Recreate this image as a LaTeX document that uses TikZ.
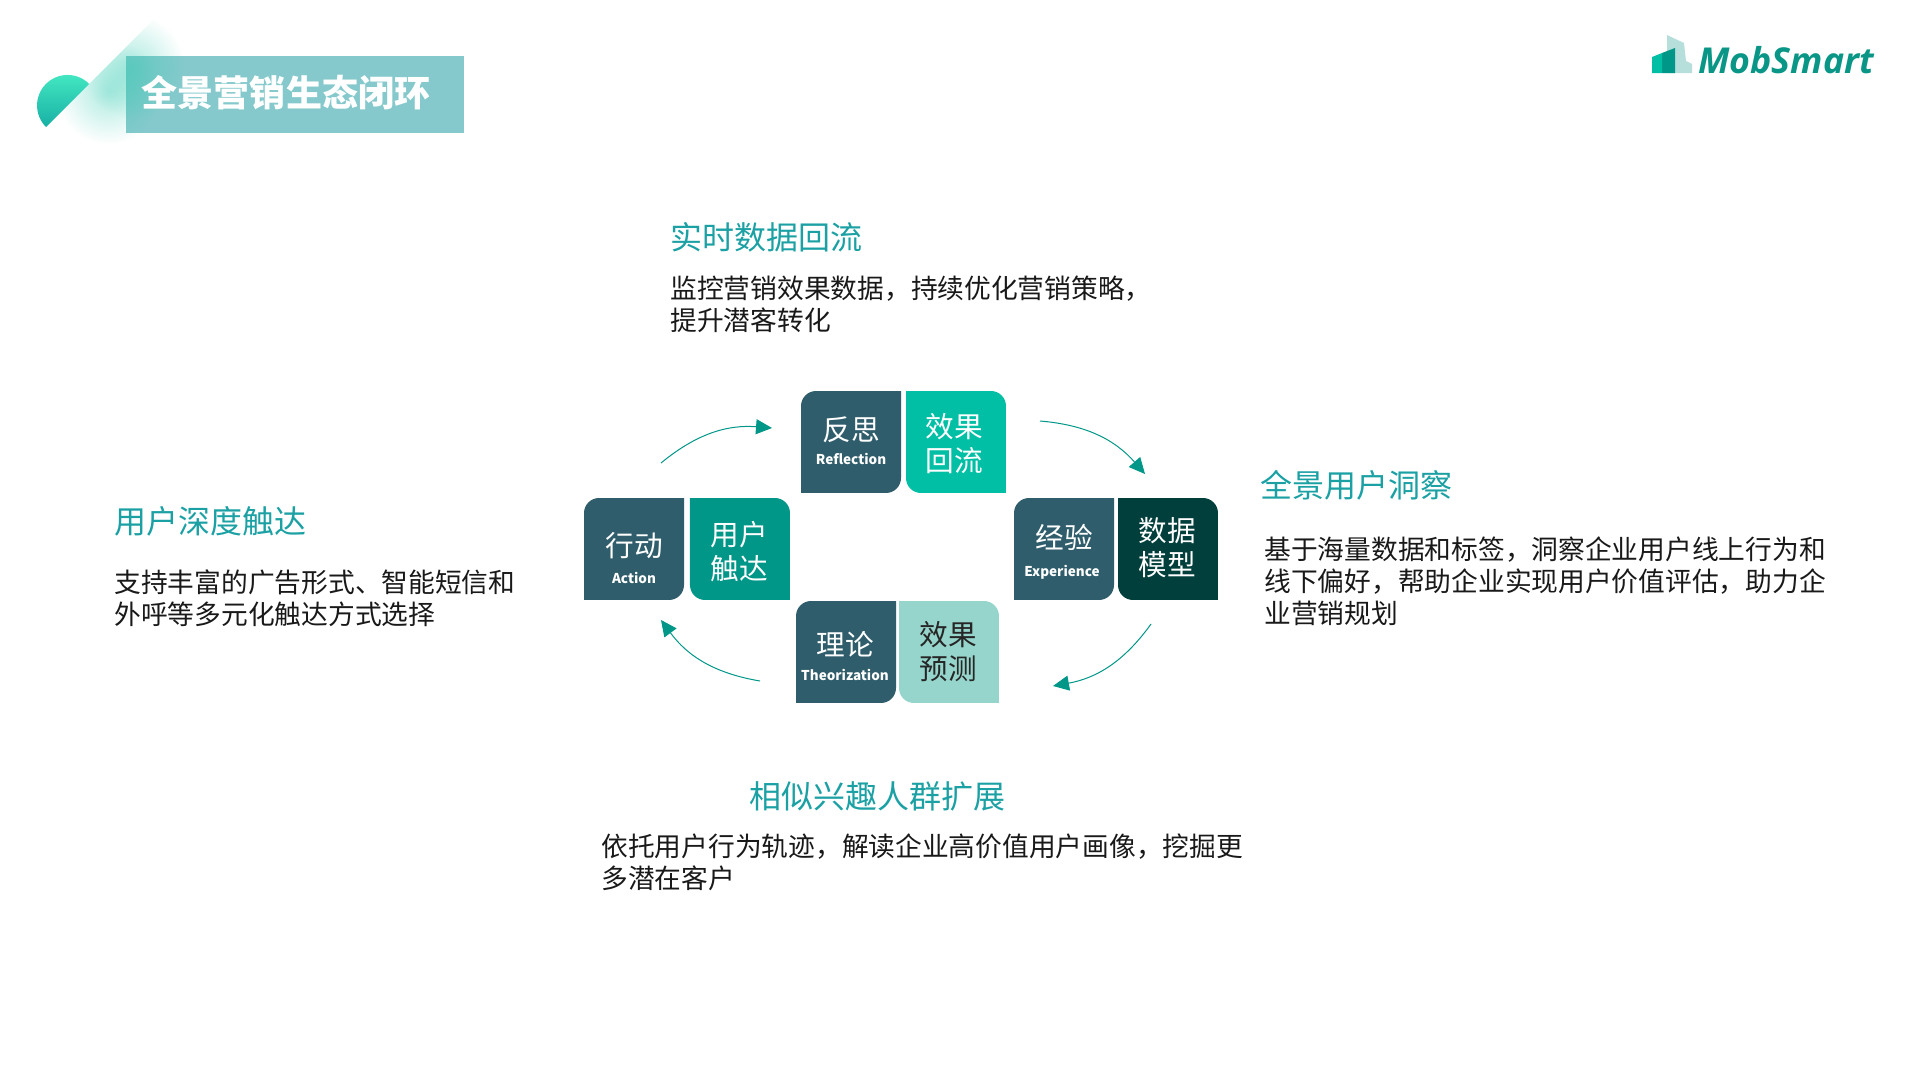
\documentclass[tikz,border=0pt]{standalone}
\usepackage{fontspec}
\setmainfont{Noto Sans CJK SC}
\newfontfamily\logofont{Open Sans}
\usetikzlibrary{arrows.meta, positioning, fadings}

\definecolor{darkslate}{HTML}{2F5D6B}
\definecolor{brightteal}{HTML}{00BFA5}
\definecolor{midteal}{HTML}{009688}
\definecolor{deepteal}{HTML}{003F3C}
\definecolor{paleteal}{HTML}{96D5CB}
\definecolor{headteal}{HTML}{1BA0A4}
\definecolor{barteal}{HTML}{85C9CC}
\definecolor{logoteal}{HTML}{0A9686}
\definecolor{disctop}{HTML}{45E9C2}
\definecolor{discbottom}{HTML}{17B0A5}
\definecolor{glowteal}{HTML}{2CC9AE}

\tikzfading[name=softspot, inner color=transparent!62, outer color=transparent!100]

\begin{document}
\begin{tikzpicture}[
    x=0.02cm, y=-0.02cm,
    boxbase/.style={rectangle, minimum width=2cm, minimum height=2.04cm, inner sep=0pt, outer sep=0pt},
    stagebox/.style={boxbase, path picture={
        \fill[darkslate] (path picture bounding box.west) [rounded corners=0.3cm] |- (path picture bounding box.north)
            [sharp corners] -| (path picture bounding box.east)
            [rounded corners=0.3cm] |- (path picture bounding box.south)
            [sharp corners] -| cycle;}},
    effectbox/.style={boxbase, path picture={
        \fill[#1] (path picture bounding box.west) [sharp corners] |- (path picture bounding box.north)
            [rounded corners=0.3cm] -| (path picture bounding box.east)
            [sharp corners] |- (path picture bounding box.south)
            [rounded corners=0.3cm] -| cycle;}},
    stagecn/.style={text=white, inner sep=0pt, align=center, font=\fontsize{16.3}{19.4}\selectfont},
    stageen/.style={text=white, inner sep=0pt, font=\fontsize{7.7}{9}\selectfont\bfseries},
    heading/.style={anchor=west, inner sep=0pt, text=headteal, font=\fontsize{18.2}{22}\selectfont},
    bodytext/.style={anchor=west, inner sep=0pt, align=left, text=black!90, font=\fontsize{15.22}{18.1}\selectfont},
    arrow/.style={-{Triangle[length=0.32cm, width=0.3cm]}, midteal, line width=0.57pt, bend left=#1},
    glowspot/.style={glowteal, path fading=softspot}
]
\useasboundingbox (0,0) rectangle (1916,1075);

% Title bar with the half disc and its glow
\node[rectangle, fill=barteal, minimum width=6.76cm, minimum height=1.54cm, inner sep=0pt] (titlebar) at (295,94.5) {};
\begin{scope}
    \clip (46,127) -- (170,3) -- (260,3) -- (260,220) -- (46,220) -- cycle;
    \fill[glowspot] (108,92) circle[radius=1.05cm];
    \fill[glowspot] (132,66) circle[radius=1.05cm];
\end{scope}
\shade[top color=disctop, bottom color=discbottom] (46,127) arc[start angle=225, end angle=45, radius=0.61cm] -- cycle;
\node[text=white, inner sep=0pt, font=\fontsize{20.5}{24}\selectfont\bfseries] (title) at (286,93) {全景营销生态闭环};

% Logo
\fill[logoteal!30] (1667,35) -- (1684,43) -- (1686,61) -- (1692,64) -- (1692,73) -- (1667,73) -- cycle;
\fill[midteal] (1662,53) -- (1675,48) -- (1675,73) -- (1662,73) -- cycle;
\fill[brightteal] (1652,57) -- (1662,53) -- (1662,73) -- (1652,73) -- cycle;
\node[anchor=base west, inner sep=0pt, text=logoteal, font=\logofont\fontsize{20.3}{24}\selectfont\bfseries\itshape] (logo) at (1698,73) {MobSmart};

% Cycle - each stage is a pair of boxes
\node[stagebox] (reflection) at (851,442) {};
\node[effectbox=brightteal, right=0.1cm of reflection] (backflow) {};
\node[stagebox] (experience) at (1064,549) {};
\node[effectbox=deepteal, right=0.08cm of experience] (model) {};
\node[stagebox] (theorization) at (846,652) {};
\node[effectbox=paleteal, right=0.06cm of theorization] (forecast) {};
\node[stagebox] (action) at (634,549) {};
\node[effectbox=midteal, right=0.12cm of action] (reach) {};

% Stage names
\node[stagecn] (reflectioncn) at (851,430) {反思};
\node[stageen] (reflectionen) at (851,459) {Reflection};
\node[stagecn] (experiencecn) at (1064,537) {经验};
\node[stageen] (experienceen) at (1062,572) {Experience};
\node[stagecn] (theorizationcn) at (845,644) {理论};
\node[stageen] (theorizationen) at (845,675) {Theorization};
\node[stagecn] (actioncn) at (634,546) {行动};
\node[stageen] (actionen) at (634,578) {Action};

% Labels of the paired boxes
\node[stagecn] (backflowtext) at (954.5,444) {效果\\回流};
\node[stagecn] (modeltext) at (1167,548) {数据\\模型};
\node[stagecn, text=black!85] (forecasttext) at (948,652) {效果\\预测};
\node[stagecn] (reachtext) at (739,552) {用户\\触达};

% Arrows around the cycle
\coordinate (tlstart) at (661,463);
\coordinate (tlend) at (772,428);
\coordinate (trstart) at (1040,421);
\coordinate (trend) at (1145,474);
\coordinate (brstart) at (1151,624);
\coordinate (brend) at (1053,686);
\coordinate (blstart) at (760,681);
\coordinate (blend) at (661,620);
\draw[arrow=22] (tlstart) to (tlend);
\draw[arrow=22] (trstart) to (trend);
\draw[arrow=22] (brstart) to (brend);
\draw[arrow=22] (blstart) to (blend);

% Text blocks
\node[heading] (tophead) at (670,237) {实时数据回流};
\node[bodytext] (topbody) at (670,304) {监控营销效果数据，持续优化营销策略，\\提升潜客转化};
\node[heading] (righthead) at (1260,485) {全景用户洞察};
\node[bodytext] (rightbody) at (1264,581) {基于海量数据和标签，洞察企业用户线上行为和\\线下偏好，帮助企业实现用户价值评估，助力企\\业营销规划};
\node[heading] (lefthead) at (114,521) {用户深度触达};
\node[bodytext] (leftbody) at (114,598) {支持丰富的广告形式、智能短信和\\外呼等多元化触达方式选择};
\node[heading] (bottomhead) at (749,796) {相似兴趣人群扩展};
\node[bodytext] (bottombody) at (601,862) {依托用户行为轨迹，解读企业高价值用户画像，挖掘更\\多潜在客户};

\end{tikzpicture}
\end{document}
